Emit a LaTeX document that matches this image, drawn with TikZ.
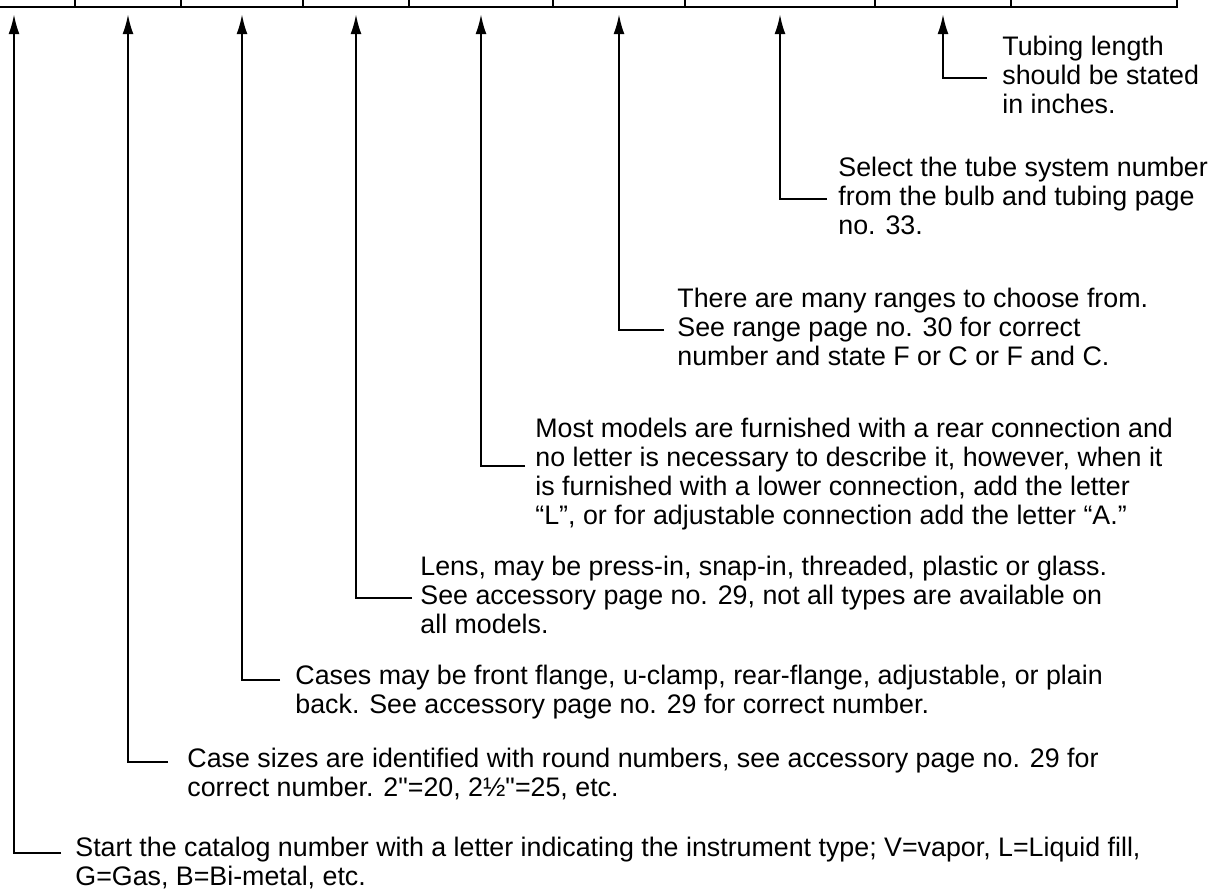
\documentclass[tikz,border=0pt]{standalone}
\usepackage{fontspec}
\setmainfont{Liberation Sans}
\usetikzlibrary{arrows.meta}
\begin{document}
\begin{tikzpicture}[x=0.5pt,y=-0.5pt,
    cell/.style={draw,line width=1.2pt,minimum height=23.5pt,inner sep=0pt},
    note/.style={align=left,inner sep=0pt,anchor=base west,font=\fontsize{13.4pt}{14.5pt}\selectfont},
    lead/.style={-{Latex[length=10pt,width=5.5pt]},line width=1pt,shorten >=3pt}]
\useasboundingbox (0,0) rectangle (1216,890);
\clip (0,0) rectangle (1216,890);

\node[cell,minimum width=61pt] (c1) at (14,-16.5) {};
\node[cell,minimum width=53pt] (c2) at (128,-16.5) {};
\node[cell,minimum width=61pt] (c3) at (242,-16.5) {};
\node[cell,minimum width=53pt] (c4) at (356,-16.5) {};
\node[cell,minimum width=72pt] (c5) at (481,-16.5) {};
\node[cell,minimum width=66pt] (c6) at (619,-16.5) {};
\node[cell,minimum width=95pt] (c7) at (780,-16.5) {};
\node[cell,minimum width=68pt] (c8) at (943,-16.5) {};
\node[cell,minimum width=83pt] (c9) at (1094,-16.5) {};

\node[note] (tub) at (1002,113) {Tubing length\\should be stated\\in inches.};
\node[note] (sel) at (838,234) {Select the tube system number\\from the bulb and tubing page\\no. 33.};
\node[note] (rng) at (677,365) {There are many ranges to choose from.\\See range page no. 30 for correct\\number and state F or C or F and C.};
\node[note] (con) at (535,524) {Most models are furnished with a rear connection and\\no letter is necessary to describe it, however, when it\\is furnished with a lower connection, add the letter\\“L”, or for adjustable connection add the letter “A.”};
\node[note] (lens) at (420,633) {Lens, may be press-in, snap-in, threaded, plastic or glass.\\See accessory page no. 29, not all types are available on\\all models.};
\node[note] (case) at (295,713) {Cases may be front flange, u-clamp, rear-flange, adjustable, or plain\\back. See accessory page no. 29 for correct number.};
\node[note] (size) at (187,796) {Case sizes are identified with round numbers, see accessory page no. 29 for\\correct number. 2\textquotedbl=20, 2½\textquotedbl=25, etc.};
\node[note] (start) at (75,885) {Start the catalog number with a letter indicating the instrument type; V=vapor, L=Liquid fill,\\G=Gas, B=Bi-metal, etc.};

\draw[lead] ([shift={(-15,-35)}]tub.base west) -| (c8.south);
\draw[lead] ([shift={(-11,-35)}]sel.base west) -| (c7.south);
\draw[lead] ([shift={(-13,-35)}]rng.base west) -| (c6.south);
\draw[lead] ([shift={(-10,-58)}]con.base west) -| (c5.south);
\draw[lead] ([shift={(-8,-35)}]lens.base west) -| (c4.south);
\draw[lead] ([shift={(-15,-33)}]case.base west) -| (c3.south);
\draw[lead] ([shift={(-19,-34)}]size.base west) -| (c2.south);
\draw[lead] ([shift={(-14,-32)}]start.base west) -| (c1.south);
\end{tikzpicture}
\end{document}
